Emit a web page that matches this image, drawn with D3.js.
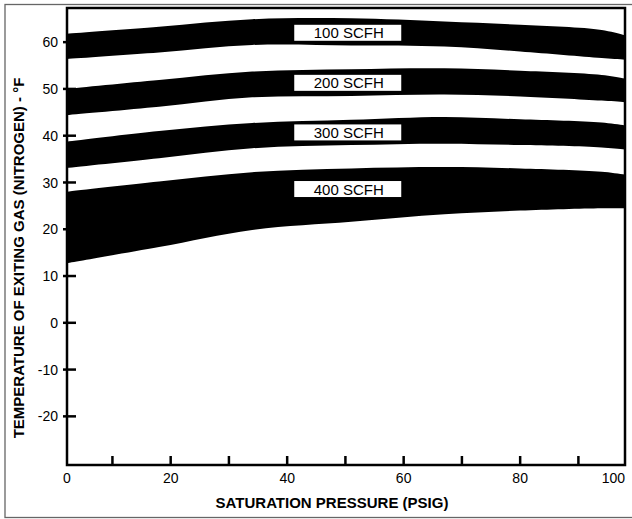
<!DOCTYPE html>
<html>
<head>
<meta charset="utf-8">
<script src="https://cdn.jsdelivr.net/npm/d3@7"></script>
<style>
  html, body { margin: 0; padding: 0; background: #fff; }
  svg { display: block; font-family: "Liberation Sans", Arial, Helvetica, sans-serif; }
</style>
</head>
<body>
<svg id="chart" width="632" height="519"></svg>
<script>
// ---- Data ----
const pressure = [2, 18, 34, 51, 67, 80, 94, 98.5];
const bandNames = ["100 SCFH", "200 SCFH", "300 SCFH", "400 SCFH"];
const upper100 = [61.8, 63.3, 64.9, 65.1, 64.4, 63.7, 62.6, 61.3];
const lower100 = [56.4, 57.8, 59.4, 59.3, 59.05, 58.0, 56.6, 56.2];
const upper200 = [50.0, 51.9, 53.7, 54.2, 54.4, 53.9, 53.0, 52.1];
const lower200 = [44.4, 46.2, 48.2, 48.5, 48.8, 48.4, 47.5, 47.1];
const upper300 = [38.7, 41.0, 42.7, 43.4, 44.0, 43.5, 42.8, 42.1];
const lower300 = [33.1, 35.2, 37.3, 38.0, 38.3, 38.0, 37.5, 37.0];
const upper400 = [28.0, 30.2, 32.2, 33.0, 33.3, 33.0, 32.3, 31.6];
const lower400 = [12.7, 16.2, 19.85, 21.6, 23.2, 24.0, 24.5, 24.5];
const labelPressure = [50.4, 50.4, 50.4, 50.4];
const labelTemp = [62.0, 51.3, 40.7, 28.6];
const yTickValues = [60, 50, 40, 30, 20, 10, 0, -10, -20];
const xTickValues = [10, 20, 30, 40, 50, 60, 70, 80, 90];
const xLabelValues = [20, 40, 60, 80];
const xEndLabels = ["0", "100"];
const xDomain = [2.2, 98];
const yDomain = [-30.4, 67.3];
const xTitle = "SATURATION PRESSURE (PSIG)";
const yTitle = "TEMPERATURE OF EXITING GAS (NITROGEN) - °F";

(function () {
  // ---- Layout ----
  const svg = d3.select("#chart");
  const pL = 67, pR = 625, pT = 8, pB = 465;
  const x = d3.scaleLinear().domain(xDomain).range([pL, pR]);
  const y = d3.scaleLinear().domain(yDomain).range([pB, pT]);

  // outer border
  svg.append("rect").attr("x", 5).attr("y", 4.5).attr("width", 640).attr("height", 513)
    .attr("fill", "none").attr("stroke", "#666").attr("stroke-width", 1.3);

  svg.append("clipPath").attr("id", "plotclip").append("rect")
    .attr("x", pL).attr("y", pT).attr("width", pR - pL).attr("height", pB - pT);

  const bands = [
    [upper100, lower100], [upper200, lower200], [upper300, lower300], [upper400, lower400]
  ];
  const area = d3.area()
    .x(d => x(d.p)).y0(d => y(d.lo)).y1(d => y(d.hi))
    .curve(d3.curveCatmullRom.alpha(0.5));

  const g = svg.append("g").attr("clip-path", "url(#plotclip)");
  bands.forEach(([hi, lo]) => {
    const pts = pressure.map((p, i) => ({ p, hi: hi[i], lo: lo[i] }));
    g.append("path").datum(pts).attr("d", area).attr("fill", "#000");
  });

  // band labels
  bandNames.forEach((name, i) => {
    const cx = x(labelPressure[i]), cy = y(labelTemp[i]);
    svg.append("rect").attr("x", cx - 53.5).attr("y", cy - 8).attr("width", 107).attr("height", 16)
      .attr("fill", "#fff");
    svg.append("text").attr("x", cx + 1).attr("y", cy + 5.5).attr("text-anchor", "middle")
      .attr("font-size", 15).attr("fill", "#000").text(name);
  });

  // frame
  svg.append("rect").attr("x", pL).attr("y", pT).attr("width", pR - pL).attr("height", pB - pT)
    .attr("fill", "none").attr("stroke", "#000").attr("stroke-width", 2.5);

  // y ticks
  yTickValues.forEach(v => {
    svg.append("line").attr("x1", pL - 4).attr("x2", pL + 9)
      .attr("y1", y(v)).attr("y2", y(v)).attr("stroke", "#000").attr("stroke-width", 2.5);
    svg.append("text").attr("x", 58).attr("y", y(v)).attr("dy", "0.36em")
      .attr("text-anchor", "end").attr("font-size", 14).attr("fill", "#000").text(v);
  });

  // x ticks
  xTickValues.forEach(v => {
    svg.append("line").attr("x1", x(v)).attr("x2", x(v))
      .attr("y1", pB - 9).attr("y2", pB).attr("stroke", "#000").attr("stroke-width", 2.5);
  });
  xLabelValues.forEach(v => {
    svg.append("text").attr("x", x(v)).attr("y", 482.5).attr("text-anchor", "middle")
      .attr("font-size", 14).attr("fill", "#000").text(v);
  });
  svg.append("text").attr("x", pL).attr("y", 482.5).attr("text-anchor", "middle")
    .attr("font-size", 14).text(xEndLabels[0]);
  svg.append("text").attr("x", pR).attr("y", 482.5).attr("text-anchor", "end")
    .attr("font-size", 14).text(xEndLabels[1]);

  // titles
  svg.append("text").attr("x", 332).attr("y", 507.5).attr("text-anchor", "middle")
    .attr("font-size", 15).attr("font-weight", "bold").text(xTitle);
  svg.append("text").attr("transform", "translate(24,258) rotate(-90)").attr("text-anchor", "middle")
    .attr("font-size", 15).attr("font-weight", "bold").text(yTitle);
})();
</script>
</body>
</html>
